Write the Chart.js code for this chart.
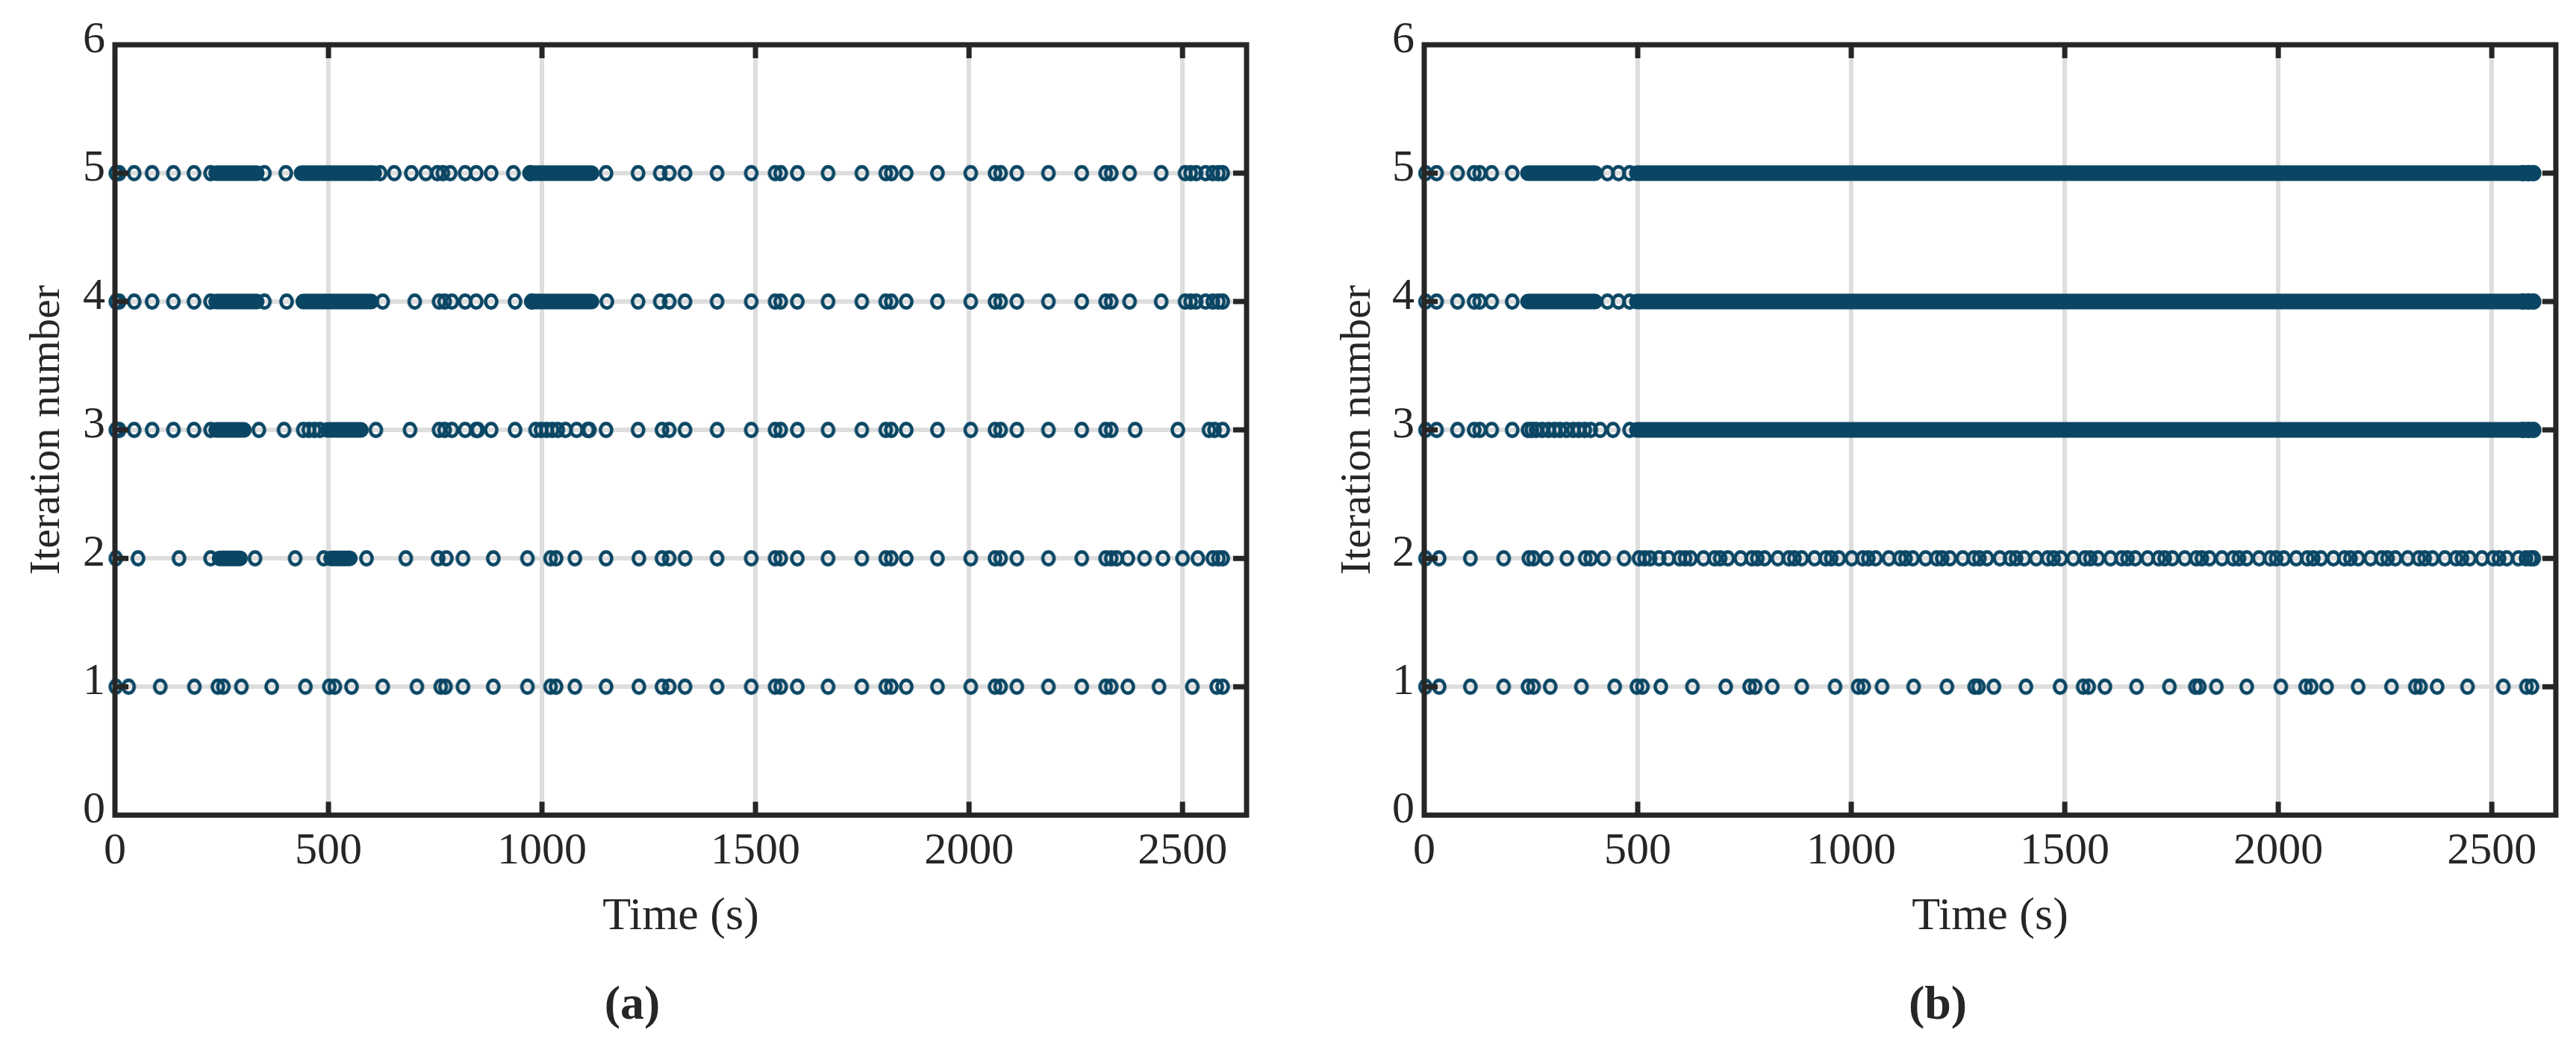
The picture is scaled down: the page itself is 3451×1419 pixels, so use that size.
<!DOCTYPE html>
<html>
<head>
<meta charset="utf-8">
<script src="https://cdn.jsdelivr.net/npm/chart.js@4.4.1/dist/chart.umd.min.js"></script>
<style>
  html, body { margin: 0; padding: 0; background: #fff; }
  canvas { position: absolute; top: 0; }
  #chart-a { left: 0; }
  #chart-b { left: 1725px; }
</style>
</head>
<body>
<canvas id="chart-a" width="1725" height="1419"></canvas>
<canvas id="chart-b" width="1726" height="1419"></canvas>
<script>
// Axis ticks (both panels)
const TIME_TICKS = [0, 500, 1000, 1500, 2000, 2500];
const TIME_MAX = 2650;
const ITER_TICKS = [0, 1, 2, 3, 4, 5, 6];

// Panel (a): event times (s) per iteration row, plus stretches where the circles merge into a solid run
const aRow1 = [2, 32, 106, 186, 241, 254, 296, 367, 446, 502, 515, 554, 627, 707, 763, 774, 815, 886, 966, 1020, 1033, 1077, 1150, 1227, 1281, 1298, 1335, 1410, 1490, 1546, 1559, 1598, 1670, 1749, 1805, 1818, 1853, 1926, 2004, 2061, 2074, 2112, 2186, 2264, 2320, 2333, 2372, 2445, 2523, 2580, 2594];
const aRow2 = [2, 54, 150, 224, 328, 422, 489, 589, 681, 757, 776, 815, 886, 966, 1020, 1033, 1077, 1150, 1227, 1281, 1298, 1335, 1410, 1490, 1546, 1559, 1598, 1670, 1749, 1805, 1818, 1853, 1926, 2004, 2061, 2074, 2112, 2186, 2264, 2320, 2333, 2346, 2372, 2411, 2454, 2500, 2536, 2571, 2584, 2594];
const aRow2Dense = [[245, 293], [506, 550]];
const aRow3 = [2, 10, 45, 87, 137, 185, 224, 337, 396, 441, 454, 467, 480, 611, 691, 759, 772, 789, 820, 846, 850, 881, 937, 985, 998, 1011, 1024, 1037, 1055, 1081, 1107, 1111, 1150, 1225, 1281, 1298, 1335, 1410, 1490, 1546, 1559, 1598, 1670, 1749, 1805, 1818, 1853, 1926, 2004, 2061, 2074, 2112, 2186, 2264, 2320, 2333, 2389, 2489, 2562, 2575, 2594];
const aRow3Dense = [[237, 302], [498, 576]];
const aRow4 = [2, 10, 45, 87, 137, 185, 224, 350, 402, 627, 702, 759, 772, 789, 820, 846, 881, 937, 976, 1152, 1225, 1277, 1298, 1335, 1410, 1490, 1546, 1559, 1598, 1670, 1749, 1805, 1818, 1853, 1926, 2004, 2061, 2074, 2112, 2186, 2264, 2320, 2333, 2376, 2450, 2506, 2519, 2532, 2554, 2571, 2584, 2594];
const aRow4Dense = [[237, 332], [441, 600], [976, 1116]];
const aRow5 = [2, 10, 45, 87, 137, 185, 224, 350, 400, 621, 654, 694, 728, 755, 768, 785, 820, 846, 881, 933, 972, 1150, 1225, 1277, 1298, 1335, 1410, 1490, 1546, 1559, 1598, 1670, 1749, 1805, 1818, 1853, 1926, 2004, 2061, 2074, 2112, 2186, 2264, 2320, 2333, 2376, 2450, 2506, 2519, 2532, 2554, 2571, 2584, 2594];
const aRow5Dense = [[237, 332], [437, 607], [972, 1116]];

// Panel (b)
const bRow1 = [3, 35, 108, 186, 243, 256, 295, 368, 446, 498, 511, 554, 628, 706, 762, 775, 815, 884, 962, 1016, 1029, 1072, 1146, 1224, 1289, 1298, 1334, 1409, 1489, 1543, 1556, 1594, 1668, 1745, 1806, 1815, 1855, 1926, 2006, 2064, 2077, 2113, 2187, 2265, 2321, 2333, 2372, 2443, 2527, 2581, 2594];
const bRow2 = [3, 35, 108, 186, 245, 256, 286, 334, 377, 390, 420, 468, 503, 516, 529, 550, 572, 598, 611, 624, 654, 680, 693, 711, 741, 767, 780, 797, 828, 854, 867, 884, 914, 940, 953, 971, 1001, 1027, 1040, 1057, 1088, 1114, 1127, 1144, 1174, 1200, 1213, 1231, 1261, 1287, 1300, 1318, 1348, 1372, 1386, 1405, 1433, 1460, 1474, 1491, 1520, 1547, 1560, 1578, 1607, 1633, 1647, 1665, 1694, 1720, 1734, 1752, 1781, 1808, 1821, 1839, 1868, 1894, 1908, 1926, 1955, 1981, 1995, 2013, 2042, 2068, 2082, 2100, 2129, 2155, 2169, 2187, 2216, 2242, 2256, 2274, 2303, 2329, 2343, 2361, 2390, 2416, 2430, 2448, 2477, 2503, 2517, 2535, 2562, 2580, 2591, 2598];
const bRow3 = [3, 29, 78, 117, 130, 158, 206, 243, 252, 262, 276, 291, 305, 318, 333, 349, 362, 376, 390, 412, 442, 481, 2573, 2586, 2598];
const bRow3Dense = [[498, 2598]];
const bRow4 = [3, 29, 78, 117, 130, 158, 206, 429, 455, 481, 2573, 2586, 2598];
const bRow4Dense = [[243, 400], [498, 2598]];
const bRow5 = [3, 29, 78, 117, 130, 158, 206, 429, 455, 481, 2573, 2586, 2598];
const bRow5Dense = [[243, 400], [498, 2598]];

const MARK = '#0a4664';
const AXIS = '#262626';
const GRID = '#dedede';
const FONT = "'Liberation Serif', 'Times New Roman', serif";
const TICK_LEN = 18;

// hollow marker, slightly taller than wide like the source figure
function makeMarker() {
  const c = document.createElement('canvas');
  c.width = 24;
  c.height = 26;
  const g = c.getContext('2d');
  g.strokeStyle = MARK;
  g.lineWidth = 4.6;
  g.beginPath();
  g.ellipse(12, 13, 7.6, 8.6, 0, 0, Math.PI * 2);
  g.stroke();
  return c;
}
const marker = makeMarker();

function rowDatasets(rows) {
  const sets = [];
  rows.forEach(({ row, times, dense }) => {
    (dense || []).forEach(([from, to]) => {
      sets.push({
        data: [{ x: from, y: row }, { x: to, y: row }],
        showLine: true,
        borderColor: MARK,
        borderWidth: 21,
        borderCapStyle: 'round',
        pointRadius: 0,
        clip: false,
      });
    });
    sets.push({
      data: times.map((t) => ({ x: t, y: row })),
      showLine: false,
      pointStyle: marker,
      pointRadius: 9,
      clip: false,
    });
  });
  return sets;
}

const framePlugin = {
  id: 'frame',
  afterDatasetsDraw(chart) {
    const { ctx, chartArea: a } = chart;
    const x = chart.scales.x;
    const y = chart.scales.y;
    ctx.save();
    ctx.strokeStyle = AXIS;
    ctx.lineWidth = 7;
    ctx.lineJoin = 'miter';
    ctx.strokeRect(a.left, a.top, a.right - a.left, a.bottom - a.top);
    ctx.beginPath();
    TIME_TICKS.slice(1).forEach((v) => {
      const px = x.getPixelForValue(v);
      ctx.moveTo(px, a.bottom);
      ctx.lineTo(px, a.bottom - TICK_LEN);
      ctx.moveTo(px, a.top);
      ctx.lineTo(px, a.top + TICK_LEN);
    });
    ITER_TICKS.slice(1, -1).forEach((v) => {
      const py = y.getPixelForValue(v);
      ctx.moveTo(a.left, py);
      ctx.lineTo(a.left + TICK_LEN, py);
      ctx.moveTo(a.right, py);
      ctx.lineTo(a.right - TICK_LEN, py);
    });
    ctx.stroke();
    ctx.restore();
  },
};

function buildChart(id, label, rows, pad, yWidth, yTitlePad) {
  return new Chart(document.getElementById(id), {
    type: 'scatter',
    data: { datasets: rowDatasets(rows) },
    options: {
      responsive: false,
      animation: false,
      devicePixelRatio: 1,
      layout: { padding: pad },
      plugins: {
        legend: { display: false },
        tooltip: { enabled: false },
        title: {
          display: true,
          text: label,
          position: 'bottom',
          color: AXIS,
          font: { family: FONT, size: 64, weight: 'bold', lineHeight: 1.2 },
          padding: { top: 44, bottom: 32 },
        },
      },
      scales: {
        x: {
          type: 'linear',
          min: 0,
          max: TIME_MAX,
          afterBuildTicks: (s) => { s.ticks = TIME_TICKS.map((v) => ({ value: v })); },
          afterFit: (s) => { s.height = 174; },
          border: { display: false },
          grid: { color: GRID, lineWidth: 6, drawTicks: false },
          ticks: { color: AXIS, font: { family: FONT, size: 60 }, padding: 13, maxRotation: 0, callback: (v) => String(v) },
          title: { display: true, text: 'Time (s)', color: AXIS, font: { family: FONT, size: 62, lineHeight: 1.2 }, padding: 0 },
        },
        y: {
          type: 'linear',
          min: 0,
          max: 6,
          afterBuildTicks: (s) => { s.ticks = ITER_TICKS.map((v) => ({ value: v })); },
          afterFit: (s) => { s.width = yWidth; },
          border: { display: false },
          grid: { color: GRID, lineWidth: 6, drawTicks: false },
          ticks: { color: AXIS, font: { family: FONT, size: 60 }, padding: 13, labelOffset: -6, callback: (v) => String(v) },
          title: { display: true, text: 'Iteration number', color: AXIS, font: { family: FONT, size: 58, lineHeight: 1.2 }, padding: { top: yTitlePad, bottom: 0 } },
        },
      },
    },
    plugins: [framePlugin],
  });
}

buildChart('chart-a', '(a)', [
  { row: 1, times: aRow1 },
  { row: 2, times: aRow2, dense: aRow2Dense },
  { row: 3, times: aRow3, dense: aRow3Dense },
  { row: 4, times: aRow4, dense: aRow4Dense },
  { row: 5, times: aRow5, dense: aRow5Dense },
], { left: 24, right: 55, top: 60, bottom: 0 }, 130, 5);

buildChart('chart-b', '(b)', [
  { row: 1, times: bRow1 },
  { row: 2, times: bRow2 },
  { row: 3, times: bRow3, dense: bRow3Dense },
  { row: 4, times: bRow4, dense: bRow4Dense },
  { row: 5, times: bRow5, dense: bRow5Dense },
], { left: 43, right: 27, top: 60, bottom: 0 }, 140, 17);
</script>
</body>
</html>
